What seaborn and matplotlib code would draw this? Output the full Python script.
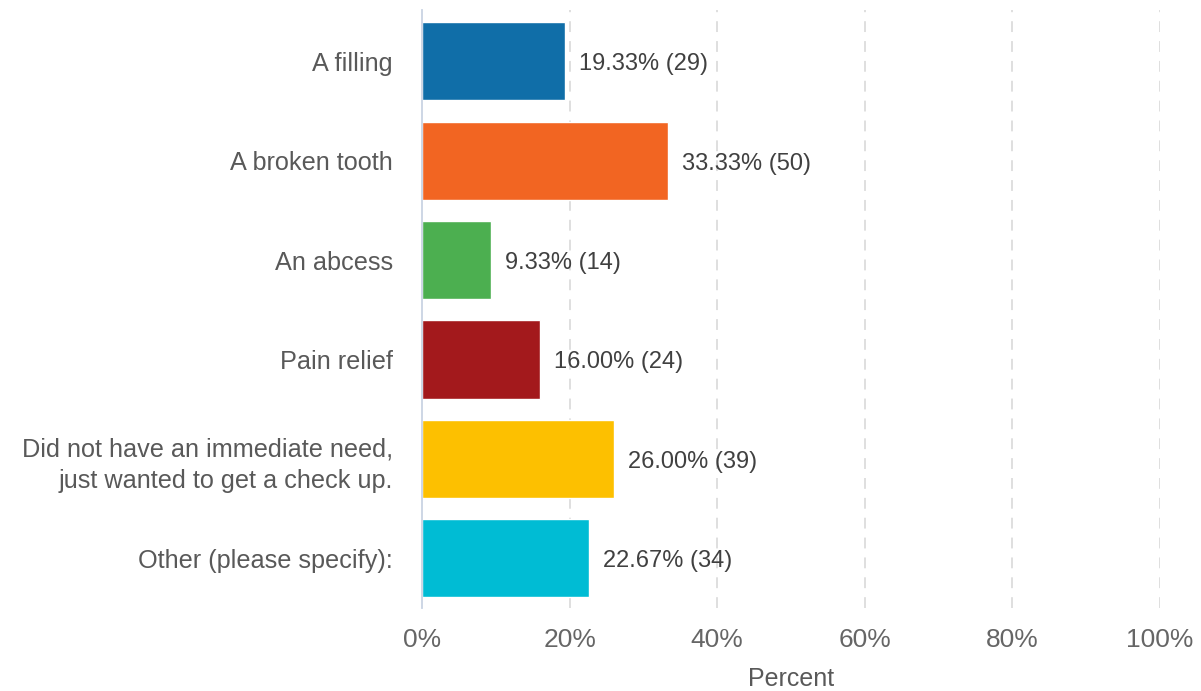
import matplotlib
matplotlib.use("Agg")
import matplotlib.pyplot as plt
import seaborn as sns
import pandas as pd

categories = [
    "A filling",
    "A broken tooth",
    "An abcess",
    "Pain relief",
    "Did not have an immediate need,\njust wanted to get a check up.",
    "Other (please specify):",
]
percents = [19.33, 33.33, 9.33, 16.00, 26.00, 22.67]
counts = [29, 50, 14, 24, 39, 34]
colors = ["#106EA8", "#F26522", "#4CAF50", "#A3191C", "#FDC000", "#00BCD4"]
x_ticks = [0, 20, 40, 60, 80, 100]
x_tick_labels = ["0%", "20%", "40%", "60%", "80%", "100%"]

sns.set_theme(style="white")
plt.rcParams["font.family"] = ["Liberation Sans", "DejaVu Sans"]

df = pd.DataFrame({"category": categories, "percent": percents})

fig = plt.figure(figsize=(12.01, 6.91), dpi=100)
ax = fig.add_axes([0.3514, 0.12, 0.6145, 0.8655])

sns.barplot(
    data=df, x="percent", y="category", hue="category",
    palette=colors, order=categories, hue_order=categories,
    width=0.785, legend=False, ax=ax, saturation=1,
)

ax.set_xlim(0, 100)
ax.set_ylim(5.5, -0.515)

# dashed vertical grid at the percent ticks
for t in x_ticks[1:]:
    ax.axvline(t, color="#DCDCDC", lw=1.3, ls=(0, (6, 5)), zorder=0)

for s in ["top", "right", "bottom"]:
    ax.spines[s].set_visible(False)
ax.spines["left"].set_color("#C9D3E3")
ax.spines["left"].set_linewidth(1.3)

ax.set_xticks(x_ticks)
ax.set_xticklabels(x_tick_labels)
ax.tick_params(axis="x", length=0, pad=14, labelsize=19, labelcolor="#666666")
ax.tick_params(axis="y", length=0, pad=21, labelsize=18.2, labelcolor="#595959")
for lbl in ax.get_yticklabels():
    lbl.set_horizontalalignment("right")
    lbl.set_multialignment("right")
    lbl.set_linespacing(1.4)

ax.set_ylabel("")
ax.set_xlabel("Percent", fontsize=18, color="#595959", labelpad=11)

for i, (p, c) in enumerate(zip(percents, counts)):
    ax.text(p + 1.9, i + 0.03, f"{p:.2f}% ({c})", va="center", ha="left",
            fontsize=17, color="#404040")

fig.savefig("out.png", dpi=100)
